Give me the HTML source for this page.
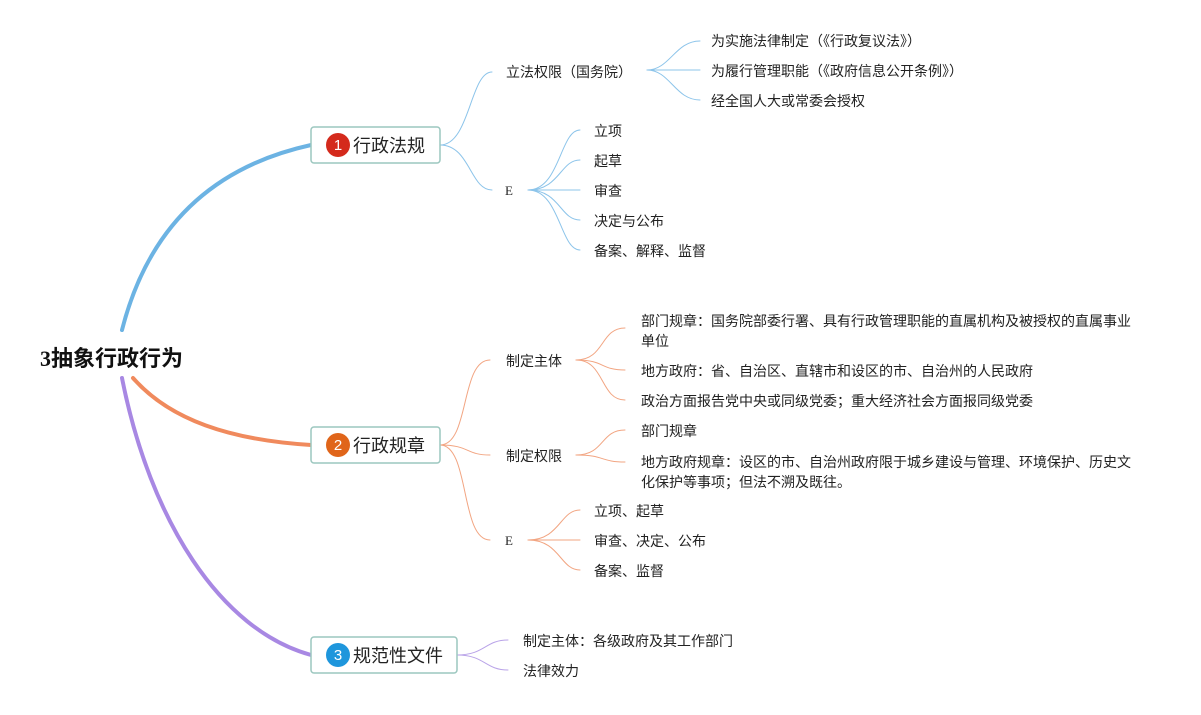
<!DOCTYPE html>
<html><head><meta charset="utf-8"><style>
body{margin:0;background:#fff;}
svg text{font-family:"Liberation Sans","Noto Sans CJK SC",sans-serif;font-size:14px;fill:#222;}
</style></head><body>
<svg width="1201" height="710" xmlns="http://www.w3.org/2000/svg">
<g fill="none" stroke-linecap="round">
<path d="M122,330 C150,220 220,165 311,145" stroke="#6cb3e3" stroke-width="4"/>
<path d="M133,378 C170,420 230,440 311,445" stroke="#f08a5d" stroke-width="4"/>
<path d="M122,378 C150,520 220,630 311,655" stroke="#a888e3" stroke-width="4"/>
<g stroke="#8cc4ea" stroke-width="1">
<path d="M440,145 C470,145 470,72 492,72"/>
<path d="M440,145 C470,145 470,190 492,190"/>
<path d="M647,70 C670,70 675,41 700,41"/>
<path d="M647,70 L700,70"/>
<path d="M647,70 C670,70 675,100 700,100"/>
<path d="M528,190 C560,190 560,130 580,130"/>
<path d="M528,190 C560,190 560,160 580,160"/>
<path d="M528,190 L580,190"/>
<path d="M528,190 C560,190 560,220 580,220"/>
<path d="M528,190 C560,190 560,250 580,250"/>
</g>
<g stroke="#f2a582" stroke-width="1">
<path d="M440,445 C470,445 460,360 490,360"/>
<path d="M440,445 C470,445 465,455 490,455"/>
<path d="M440,445 C470,445 460,540 490,540"/>
<path d="M576,360 C605,360 600,328 625,328"/>
<path d="M576,360 C605,360 600,370 625,370"/>
<path d="M576,360 C605,360 600,400 625,400"/>
<path d="M576,455 C605,455 600,430 625,430"/>
<path d="M576,455 C605,455 600,462 625,462"/>
<path d="M528,540 C560,540 560,510 580,510"/>
<path d="M528,540 L580,540"/>
<path d="M528,540 C560,540 560,570 580,570"/>
</g>
<g stroke="#b9a3e8" stroke-width="1">
<path d="M457,655 C485,655 485,640 508,640"/>
<path d="M457,655 C485,655 485,670 508,670"/>
</g>
</g>
<g fill="#fff" stroke="#9cc7bf" stroke-width="1.5">
<rect x="311" y="127" width="129" height="36" rx="3"/>
<rect x="311" y="427" width="129" height="36" rx="3"/>
<rect x="311" y="637" width="146" height="36" rx="3"/>
</g>
<circle cx="338" cy="145" r="12" fill="#d42a1c"/>
<circle cx="338" cy="445" r="12" fill="#e0651a"/>
<circle cx="338" cy="655" r="12" fill="#1e96dc"/>
<g text-anchor="middle"><text x="338" y="150" style="fill:#fff;font-size:15px">1</text><text x="338" y="450" style="fill:#fff;font-size:15px">2</text><text x="338" y="660" style="fill:#fff;font-size:15px">3</text></g>
<text x="353" y="152" style="font-size:18px">行政法规</text>
<text x="353" y="452" style="font-size:18px">行政规章</text>
<text x="353" y="662" style="font-size:18px">规范性文件</text>
<text x="40" y="366" style="font-family:'Liberation Serif','Noto Sans CJK SC',serif;font-size:22px;font-weight:bold;fill:#111">3抽象行政行为</text>
<text x="506" y="77">立法权限（国务院）</text>
<text x="711" y="46">为实施法律制定（《行政复议法》）</text>
<text x="711" y="76">为履行管理职能（《政府信息公开条例》）</text>
<text x="711" y="106">经全国人大或常委会授权</text>
<text x="505" y="195" style="font-family:'Liberation Serif',serif;font-size:13px">E</text>
<text x="594" y="136">立项</text>
<text x="594" y="166">起草</text>
<text x="594" y="196">审查</text>
<text x="594" y="226">决定与公布</text>
<text x="594" y="256">备案、解释、监督</text>
<text x="506" y="366">制定主体</text>
<text x="641" y="326">部门规章：国务院部委行署、具有行政管理职能的直属机构及被授权的直属事业</text>
<text x="641" y="346">单位</text>
<text x="641" y="376">地方政府：省、自治区、直辖市和设区的市、自治州的人民政府</text>
<text x="641" y="406">政治方面报告党中央或同级党委；重大经济社会方面报同级党委</text>
<text x="506" y="461">制定权限</text>
<text x="641" y="436">部门规章</text>
<text x="641" y="467">地方政府规章：设区的市、自治州政府限于城乡建设与管理、环境保护、历史文</text>
<text x="641" y="487">化保护等事项；但法不溯及既往。</text>
<text x="505" y="545" style="font-family:'Liberation Serif',serif;font-size:13px">E</text>
<text x="594" y="516">立项、起草</text>
<text x="594" y="546">审查、决定、公布</text>
<text x="594" y="576">备案、监督</text>
<text x="523" y="646">制定主体：各级政府及其工作部门</text>
<text x="523" y="676">法律效力</text>
</svg>
</body></html>
